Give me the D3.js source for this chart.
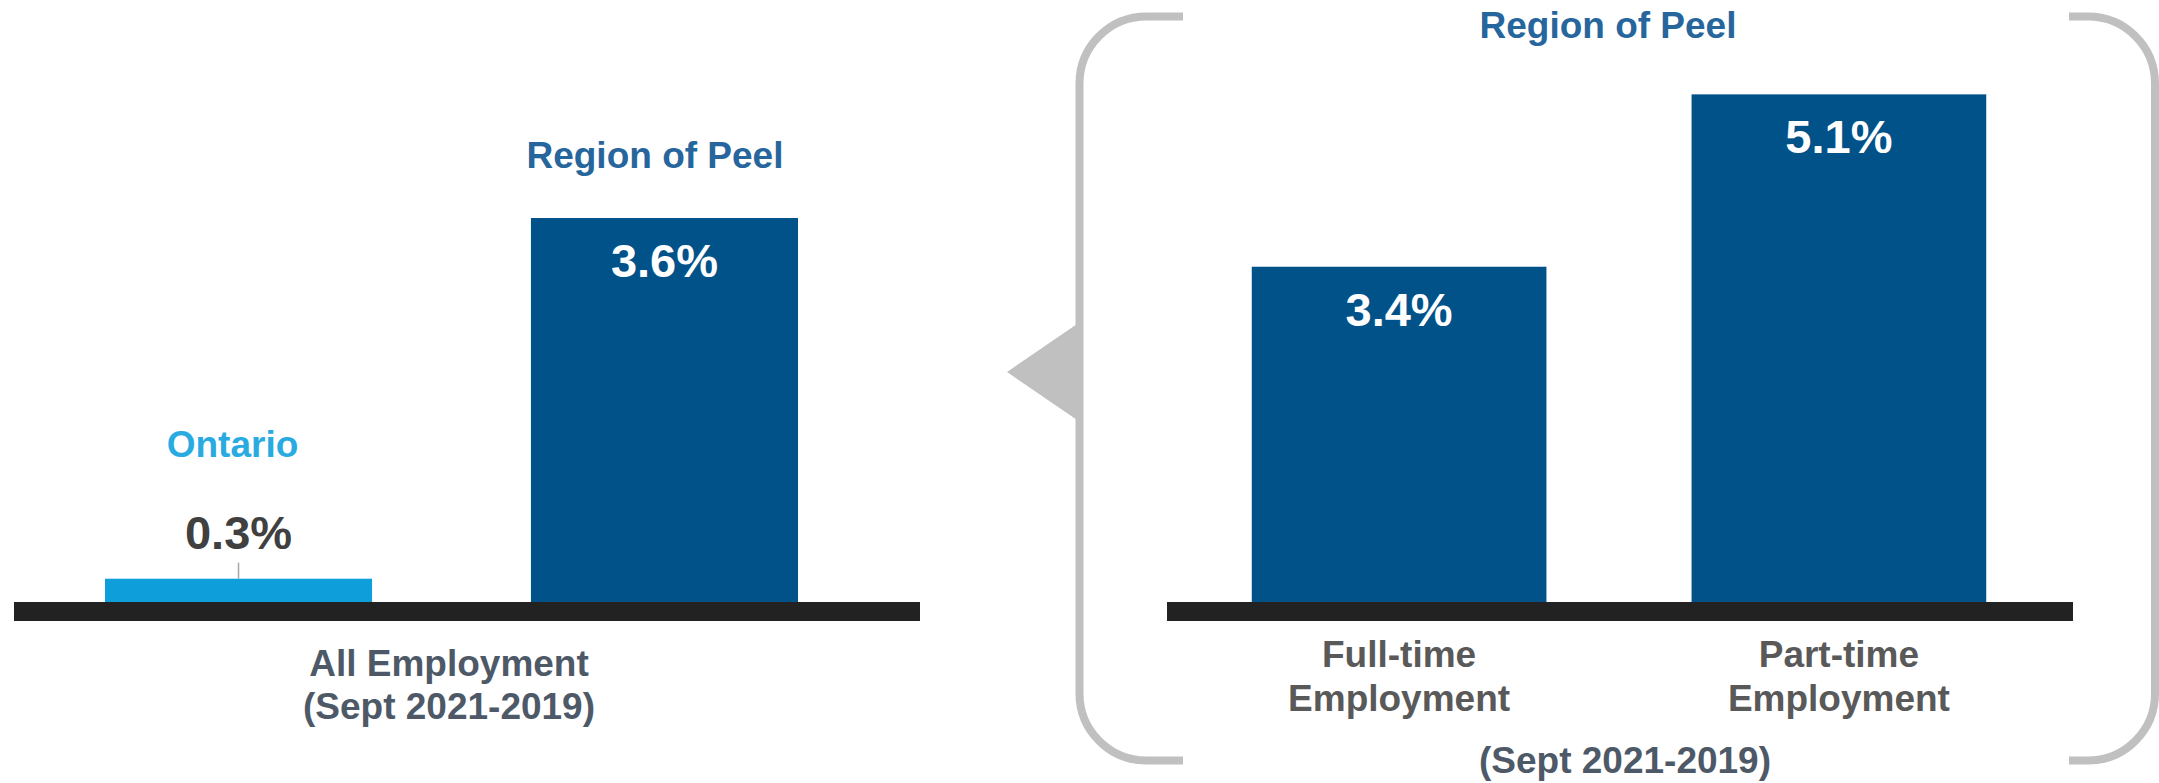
<!DOCTYPE html>
<html>
<head>
<meta charset="utf-8">
<script src="https://cdn.jsdelivr.net/npm/d3@7"></script>
<style>
  html, body { margin: 0; padding: 0; background: #ffffff; }
  svg { display: block; }
  text { font-family: "Liberation Sans", Arial, Helvetica, sans-serif; font-weight: bold; }
</style>
</head>
<body>
<script>
// ---- Data ----
const leftCategories = ["Ontario", "Region of Peel"];
const leftValues = [0.3, 3.6];
const leftValueLabels = ["0.3%", "3.6%"];
const leftAxisLabel = ["All Employment", "(Sept 2021-2019)"];

const rightTitle = "Region of Peel";
const rightCategories = ["Full-time Employment", "Part-time Employment"];
const rightCategoryLines = [["Full-time", "Employment"], ["Part-time", "Employment"]];
const rightValues = [3.4, 5.1];
const rightValueLabels = ["3.4%", "5.1%"];
const rightPeriodLabel = "(Sept 2021-2019)";

(function () {
// ---- Setup ----
const W = 2159, H = 783;
const baseline = 611.5;
const svg = d3.select("body").append("svg").attr("width", W).attr("height", H);

const colPeel = "#02528a";
const colOntario = "#0e9fda";
const colOntarioText = "#29abe2";
const colPeelText = "#26669c";
const colAxis = "#222222";
const colSlate = "#4e5968";
const colGrey = "#595959";
const colBracket = "#c0c0c0";

// ---- Left panel ----
const xL = d3.scaleBand().domain(leftCategories).range([-1.5, 904.5]).paddingInner(0.373).paddingOuter(0.25);
const yL = d3.scaleLinear().domain([0, 4]).range([baseline, baseline - 437.2]);
const leftColors = [colOntario, colPeel];

const gL = svg.append("g");
gL.selectAll("rect.bar").data(leftCategories).join("rect")
  .attr("class", "bar")
  .attr("x", d => xL(d)).attr("width", xL.bandwidth())
  .attr("y", (d, i) => yL(leftValues[i]))
  .attr("height", (d, i) => yL(0) - yL(leftValues[i]))
  .attr("fill", (d, i) => leftColors[i]);

// Ontario: label above with leader line
const ont = leftCategories[0];
const ontCx = xL(ont) + xL.bandwidth() / 2;
gL.append("line")
  .attr("x1", ontCx).attr("x2", ontCx)
  .attr("y1", yL(leftValues[0]) - 16).attr("y2", yL(leftValues[0]))
  .attr("stroke", "#a6a6a6").attr("stroke-width", 1.5);
gL.append("text").attr("x", ontCx).attr("y", yL(leftValues[0]) - 30)
  .attr("text-anchor", "middle").attr("font-size", 47).attr("fill", "#404040")
  .text(leftValueLabels[0]);
gL.append("text").attr("x", ontCx - 6).attr("y", yL(leftValues[0]) - 122)
  .attr("text-anchor", "middle").attr("font-size", 37).attr("fill", colOntarioText)
  .text(ont);

// Peel: value inside, name above
const peel = leftCategories[1];
const peelCx = xL(peel) + xL.bandwidth() / 2;
gL.append("text").attr("x", peelCx).attr("y", yL(leftValues[1]) + 59)
  .attr("text-anchor", "middle").attr("font-size", 47).attr("fill", "#ffffff")
  .text(leftValueLabels[1]);
gL.append("text").attr("x", peelCx - 9.5).attr("y", yL(leftValues[1]) - 50)
  .attr("text-anchor", "middle").attr("font-size", 37).attr("fill", colPeelText)
  .text(peel);

// left axis band
gL.append("rect").attr("x", 14).attr("y", 602).attr("width", 906).attr("height", 19).attr("fill", colAxis);

leftAxisLabel.forEach((t, i) => {
  gL.append("text").attr("x", 449).attr("y", 676 + i * 43)
    .attr("text-anchor", "middle").attr("font-size", 37).attr("fill", colSlate).text(t);
});

// ---- Right panel ----
const xR = d3.scaleBand().domain(rightCategories).range([1166, 2072]).paddingInner(0.33).paddingOuter(0.195);
const yR = d3.scaleLinear().domain([0, 6]).range([baseline, baseline - 608.4]);

const gR = svg.append("g");
gR.selectAll("rect.bar").data(rightCategories).join("rect")
  .attr("class", "bar")
  .attr("x", d => xR(d)).attr("width", xR.bandwidth())
  .attr("y", (d, i) => yR(rightValues[i]))
  .attr("height", (d, i) => yR(0) - yR(rightValues[i]))
  .attr("fill", colPeel);

gR.selectAll("text.val").data(rightCategories).join("text")
  .attr("class", "val")
  .attr("x", d => xR(d) + xR.bandwidth() / 2)
  .attr("y", (d, i) => yR(rightValues[i]) + 59)
  .attr("text-anchor", "middle").attr("font-size", 47).attr("fill", "#ffffff")
  .text((d, i) => rightValueLabels[i]);

gR.append("rect").attr("x", 1167).attr("y", 602).attr("width", 906).attr("height", 19).attr("fill", colAxis);

rightCategories.forEach((c, i) => {
  const cx = xR(c) + xR.bandwidth() / 2;
  rightCategoryLines[i].forEach((t, j) => {
    gR.append("text").attr("x", cx).attr("y", 667 + j * 44)
      .attr("text-anchor", "middle").attr("font-size", 37).attr("fill", colGrey).text(t);
  });
});

gR.append("text").attr("x", 1608).attr("y", 38)
  .attr("text-anchor", "middle").attr("font-size", 37).attr("fill", colPeelText).text(rightTitle);
gR.append("text").attr("x", 1625).attr("y", 773)
  .attr("text-anchor", "middle").attr("font-size", 37).attr("fill", colSlate).text(rightPeriodLabel);

// ---- Bracket & pointer ----
const rad = 67, yTop = 16.5, yBot = 760.5, lx = 1079.5, rx = 2155;
svg.append("path")
  .attr("d", `M1183,${yTop} L${lx + rad},${yTop} A${rad},${rad} 0 0 0 ${lx},${yTop + rad} L${lx},${yBot - rad} A${rad},${rad} 0 0 0 ${lx + rad},${yBot} L1183,${yBot}`)
  .attr("fill", "none").attr("stroke", colBracket).attr("stroke-width", 8);
svg.append("path")
  .attr("d", `M2069,${yTop} L${rx - rad},${yTop} A${rad},${rad} 0 0 1 ${rx},${yTop + rad} L${rx},${yBot - rad} A${rad},${rad} 0 0 1 ${rx - rad},${yBot} L2069,${yBot}`)
  .attr("fill", "none").attr("stroke", colBracket).attr("stroke-width", 8);
svg.append("path")
  .attr("d", "M1007,372 L1080,322 L1080,422 Z")
  .attr("fill", colBracket);
})();
</script>
</body>
</html>
